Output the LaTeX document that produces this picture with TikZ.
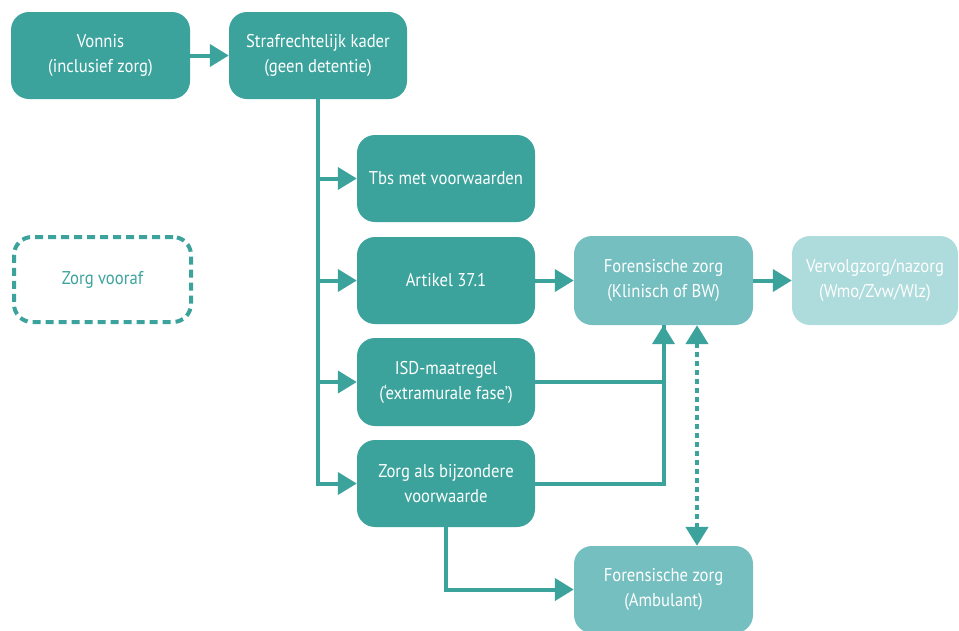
\documentclass[tikz,border=0pt]{standalone}
\usepackage{fontspec}
\setmainfont[FakeStretch=0.9]{PT Sans}
\usetikzlibrary{arrows.meta,calc}
\definecolor{tdark}{HTML}{3BA39C}
\definecolor{tmid}{HTML}{75BFC1}
\definecolor{tlight}{HTML}{AEDBDB}
\tikzset{
  box/.style={rectangle, rounded corners=18pt, minimum width=178pt, minimum height=87pt,
    inner sep=0pt, align=center, text=white, font=\fontsize{18.5}{25}\selectfont},
  darkbox/.style={box, fill=tdark},
  midbox/.style={box, fill=tmid},
  lightbox/.style={box, fill=tlight},
  conn/.style={draw=tdark, line width=4pt},
  arr/.style={conn, -{Triangle[width=22pt,length=19pt]}},
  dblarr/.style={draw=tdark, line width=4.5pt, dash pattern=on 5pt off 4pt,
    {Triangle[width=22pt,length=19pt]}-{Triangle[width=22pt,length=19pt]}},
}
\begin{document}
\begin{tikzpicture}[x=1pt,y=-1pt]
\useasboundingbox (0,0) rectangle (959,630);
\node[darkbox, minimum width=179pt] (vonnis) at (100.5,55.5) {Vonnis\\(inclusief zorg)};
\node[darkbox] (straf) at (318,55.5) {Strafrechtelijk kader\\(geen detentie)};
\node[darkbox] (tbs) at (446,178.5) {Tbs met voorwaarden};
\node[darkbox] (art) at (446,280.5) {Artikel 37.1};
\node[darkbox, minimum height=88pt] (isd) at (446,382) {ISD-maatregel\\(‘extramurale fase’)};
\node[darkbox] (zab) at (446,483.5) {Zorg als bijzondere\\voorwaarde};
\node[midbox, minimum width=179pt, minimum height=89pt] (fk) at (663.5,280.5) {Forensische zorg\\(Klinisch of BW)};
\node[lightbox, minimum width=166pt, minimum height=89pt] (vv) at (875,280.5) {Vervolgzorg/nazorg\\(Wmo/Zvw/Wlz)};
\node[midbox, minimum width=179pt] (fa) at (663.5,589.5) {Forensische zorg\\(Ambulant)};
\node[box, minimum width=177pt, minimum height=85pt, draw=tdark, line width=4pt,
  dash pattern=on 8pt off 5pt, text=tdark] (zv) at (102.5,279.5) {Zorg vooraf};

\draw[arr] (vonnis.east) -- (straf.west);
\draw[arr] (straf.south) |- (zab.west);
\draw[arr] (straf.south |- tbs.west) -- (tbs.west);
\draw[arr] (straf.south |- art.west) -- (art.west);
\draw[arr] (straf.south |- isd.west) -- (isd.west);
\draw[arr] (art.east) -- (fk.west);
\draw[arr] (fk.east) -- (vv.west);
\draw[conn] (zab.east) -| (fk.south);
\draw[arr] (isd.east) -| (fk.south);
\draw[arr] (zab.south) |- (fa.west);
\draw[dblarr] ([xshift=33.5pt]fk.south) -- ([xshift=33.5pt]fa.north);
\end{tikzpicture}
\end{document}
